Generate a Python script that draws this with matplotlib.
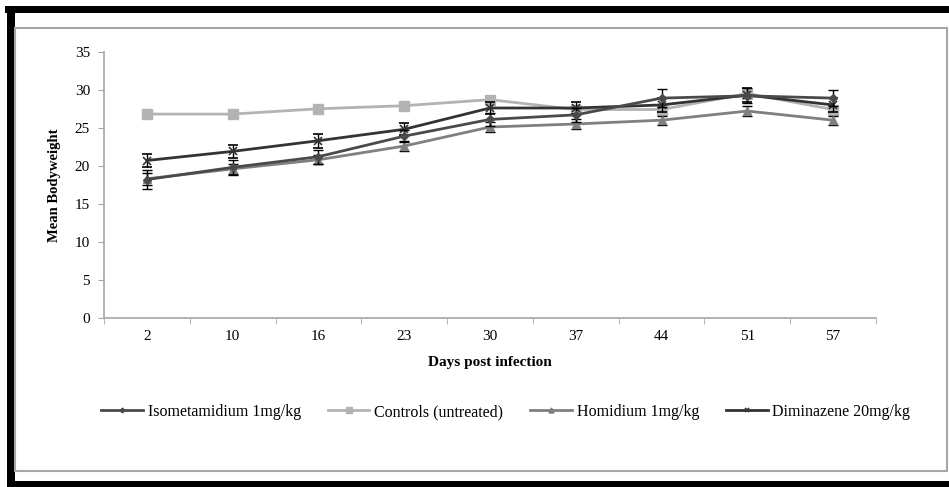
import matplotlib
matplotlib.use("Agg")
import matplotlib.pyplot as plt
from matplotlib.patches import Rectangle
from matplotlib.lines import Line2D
import numpy as np

plt.rcParams['font.family'] = ['Liberation Serif', 'DejaVu Serif']

# days post infection (categorical x axis)
days = ["2", "10", "16", "23", "30", "37", "44", "51", "57"]

# mean bodyweight per group
isometamidium = [18.2, 19.8, 21.2, 23.9, 26.1, 26.7, 28.9, 29.2, 28.9]
controls = [26.8, 26.8, 27.5, 27.9, 28.7, 27.4, 27.4, 29.5, 27.4]
homidium = [18.3, 19.6, 20.8, 22.6, 25.1, 25.5, 26.0, 27.2, 26.0]
diminazene = [20.7, 21.9, 23.3, 24.8, 27.6, 27.6, 28.0, 29.3, 28.0]

# standard errors
iso_err = [1.2, 1.0, 0.9, 0.8, 0.8, 0.9, 1.2, 1.0, 1.1]
hom_err = [0.8, 0.7, 0.6, 0.6, 0.6, 0.6, 0.6, 0.7, 0.6]
dim_err = [0.9, 0.9, 0.9, 0.8, 0.8, 0.8, 0.9, 0.9, 0.9]

fig = plt.figure(figsize=(9.49, 4.87), dpi=100)
W, H = 949, 487

# outer frame: heavy black bands on top, left and bottom, thin grey inner box
def px_rect(x0, y0, x1, y1, **kw):
    fig.patches.append(Rectangle((x0 / W, 1 - y1 / H), (x1 - x0) / W, (y1 - y0) / H,
                                 transform=fig.transFigure, figure=fig, **kw))

px_rect(5, 6, 949, 13, color="black", lw=0)
px_rect(7, 6, 15, 487, color="black", lw=0)
px_rect(7, 481, 949, 487, color="black", lw=0)
px_rect(15.5, 27.5, 946.5, 470.5, fill=False, edgecolor="#a6a6a6", lw=1.5)

ax = fig.add_axes([104 / W, 1 - 318 / H, (876 - 104) / W, (318 - 51.7) / H])
x = np.arange(len(days))

styles = {
    "Isometamidium 1mg/kg": dict(color="#4a4a4a", marker="D", ms=4),
    "Controls (untreated)": dict(color="#b3b3b3", marker="s", ms=7),
    "Homidium 1mg/kg": dict(color="#808080", marker="^", ms=6),
    "Diminazene 20mg/kg": dict(color="#333333", marker="x", ms=6, mew=1.2),
}

eb_kw = dict(ecolor="black", elinewidth=1.0, capsize=3.5, capthick=1.0)
ax.errorbar(x, diminazene, yerr=dim_err, lw=2, zorder=3,
            **styles["Diminazene 20mg/kg"], **eb_kw)
ax.errorbar(x, homidium, yerr=hom_err, lw=2, zorder=3,
            **styles["Homidium 1mg/kg"], **eb_kw)
ax.errorbar(x, isometamidium, yerr=iso_err, lw=2, zorder=4,
            **styles["Isometamidium 1mg/kg"], **eb_kw)
ax.plot(x, controls, lw=2, zorder=2, **styles["Controls (untreated)"])

ax.set_xlim(-0.5, len(days) - 0.5)
ax.set_ylim(0, 35)
ax.set_yticks(range(0, 36, 5))
ax.set_xticks(x)
ax.set_xticklabels(days)
ax.set_xticks(np.arange(-0.5, len(days), 1), minor=True)

for s in ["top", "right"]:
    ax.spines[s].set_visible(False)
for s in ["left", "bottom"]:
    ax.spines[s].set_color("#a6a6a6")
    ax.spines[s].set_linewidth(1.2)

ax.tick_params(axis="y", length=4, color="#a6a6a6", labelsize=11, pad=6)
ax.tick_params(axis="x", which="major", length=0, labelsize=11, pad=9)
ax.tick_params(axis="x", which="minor", length=4, color="#a6a6a6")

ax.set_xlabel("Days post infection", fontsize=11, fontweight="bold", labelpad=9)
ax.set_ylabel("Mean Bodyweight", fontsize=10.5, fontweight="bold", labelpad=10)

# legend with plain line+marker keys, in the original series order
leg_handles = []
leg_labels = []
for name, st in styles.items():
    st = dict(st)
    st["ms"] = st["ms"] * 0.6
    leg_handles.append(Line2D([], [], lw=2, **st))
    leg_labels.append(name)
fig.legend(leg_handles, leg_labels,
           loc="center", bbox_to_anchor=(0.533, 1 - 412 / H), ncol=4,
           frameon=False, fontsize=11.5, handlelength=2.6, columnspacing=1.7,
           handletextpad=0.3)

fig.savefig("out.png", dpi=100, facecolor="white")
